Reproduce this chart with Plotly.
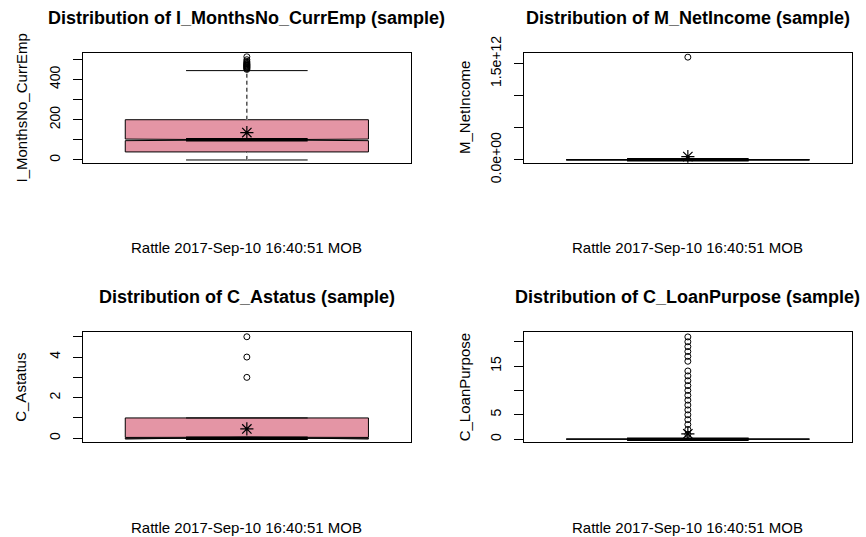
import plotly.graph_objects as go

# ---------------- data ----------------
variables = ["I_MonthsNo_CurrEmp", "M_NetIncome", "C_Astatus", "C_LoanPurpose"]
q1_vals = [40, 1500, 0, 0]
median_vals = [100, 3000, 0, 0]
q3_vals = [200, 6000, 1, 0]
lower_vals = [0, 0, 0, 0]
upper_vals = [444, 12000, 1, 0]
mean_vals = [136, 5.0e10, 0.46, 1.1]
notch_vals = [4, 300, 0.04, 0]
outliers = [
    [450, 454, 458, 461, 464, 467, 470, 473, 476, 480, 484, 490, 498, 513],
    [1.6e12],
    [3, 4, 5],
    [1, 2, 3, 4, 5, 6, 7, 8, 9, 10, 11, 12, 13, 14, 16, 17, 18, 19, 20, 21],
]
y_ranges = [[-13.5, 530], [-4.5e10, 1.66e12], [-0.2, 5.22], [-0.65, 21.95]]
tick_vals = [
    [0, 100, 200, 300, 400, 500],
    [0, 5e11, 1e12, 1.5e12],
    [0, 1, 2, 3, 4, 5],
    [0, 5, 10, 15, 20],
]
tick_text = [
    ["0", "", "200", "", "400", ""],
    ["0.0e+00", "", "", "1.5e+12"],
    ["0", "", "2", "", "4", ""],
    ["0", "5", "", "15", ""],
]
subtitle = "Rattle 2017-Sep-10 16:40:51 MOB"

# ---------------- style ----------------
W, H = 866, 537
FONT = "Liberation Sans, Arial, sans-serif"
FILL = "#E495A5"
BOX_W = 0.8
POS = 1

x_doms = [[82.7 / W, 411 / W], [523.7 / W, 852 / W]]
y_doms = [[(H - 162.7) / H, (H - 53.3) / H], [(H - 442.3) / H, (H - 332.3) / H]]

fig = go.Figure()
annotations = []

for i, var in enumerate(variables):
    col = i % 2
    row = i // 2
    xa = "x" if i == 0 else f"x{i+1}"
    ya = "y" if i == 0 else f"y{i+1}"

    fig.add_trace(go.Box(
        x=[POS], q1=[q1_vals[i]], median=[median_vals[i]], q3=[q3_vals[i]],
        lowerfence=[lower_vals[i]], upperfence=[upper_vals[i]],
        notched=notch_vals[i] > 0, notchspan=[notch_vals[i]] if notch_vals[i] > 0 else None,
        notchwidth=0.5, whiskerwidth=0.5, width=BOX_W,
        fillcolor=FILL, line=dict(color="black", width=1),
        boxpoints=False, hoverinfo="skip", showlegend=False,
        xaxis=xa, yaxis=ya,
    ))
    # dashed whiskers (R style): mask solid whisker, then dash
    for seg in ([q3_vals[i], upper_vals[i]], [lower_vals[i], q1_vals[i]]):
        if seg[1] != seg[0]:
            fig.add_trace(go.Scatter(x=[POS, POS], y=seg, mode="lines",
                                     line=dict(color="white", width=2),
                                     showlegend=False, hoverinfo="skip", xaxis=xa, yaxis=ya))
            fig.add_trace(go.Scatter(x=[POS, POS], y=seg, mode="lines",
                                     line=dict(color="black", width=1, dash="4px,3px"),
                                     showlegend=False, hoverinfo="skip", xaxis=xa, yaxis=ya))
    # thick median
    fig.add_trace(go.Scatter(x=[POS - BOX_W / 4, POS + BOX_W / 4],
                             y=[median_vals[i], median_vals[i]], mode="lines",
                             line=dict(color="black", width=3.5),
                             showlegend=False, hoverinfo="skip", xaxis=xa, yaxis=ya))
    # outliers
    fig.add_trace(go.Scatter(x=[POS] * len(outliers[i]), y=outliers[i], mode="markers",
                             marker=dict(symbol="circle-open", size=6, color="black",
                                         line=dict(width=1, color="black")),
                             showlegend=False, hoverinfo="skip", xaxis=xa, yaxis=ya))
    # mean
    fig.add_trace(go.Scatter(x=[POS], y=[mean_vals[i]], mode="markers",
                             marker=dict(symbol="asterisk-open", size=11, color="black",
                                         line=dict(width=1.2, color="black")),
                             showlegend=False, hoverinfo="skip", xaxis=xa, yaxis=ya))

    xkey = "xaxis" if i == 0 else f"xaxis{i+1}"
    ykey = "yaxis" if i == 0 else f"yaxis{i+1}"
    fig.update_layout(**{
        xkey: dict(domain=x_doms[col], anchor=ya, range=[0.46, 1.54], automargin=False,
                   showticklabels=False, ticks="", showgrid=False, zeroline=False,
                   showline=True, mirror=True, linecolor="black", linewidth=1),
        ykey: dict(domain=y_doms[row], anchor=xa, range=y_ranges[i], automargin=False,
                   tickvals=tick_vals[i], ticktext=tick_text[i], tickangle=-90,
                   ticks="outside", ticklen=9, tickcolor="black", tickwidth=1,
                   ticklabelstandoff=7,
                   tickfont=dict(family=FONT, size=14, color="black"),
                   showgrid=False, zeroline=False,
                   showline=True, mirror=True, linecolor="black", linewidth=1),
    })

    xc = sum(x_doms[col]) / 2
    yc = sum(y_doms[row]) / 2
    title_y = [(H - 18) / H, (H - 297) / H][row]
    sub_y = [(H - 247) / H, (H - 527) / H][row]
    lab_x = [20.5 / W, 464 / W][col]
    annotations.append(dict(text=f"<b>Distribution of {var} (sample)</b>", x=xc, y=title_y,
                            xref="paper", yref="paper", showarrow=False,
                            xanchor="center", yanchor="middle",
                            font=dict(family=FONT, size=18, color="black")))
    annotations.append(dict(text=subtitle, x=xc, y=sub_y, xref="paper", yref="paper",
                            showarrow=False, xanchor="center", yanchor="middle",
                            font=dict(family=FONT, size=15, color="black")))
    annotations.append(dict(text=var, x=lab_x, y=yc, xref="paper", yref="paper",
                            showarrow=False, textangle=-90, xanchor="center", yanchor="middle",
                            font=dict(family=FONT, size=15, color="black")))

fig.update_layout(width=W, height=H, margin=dict(l=0, r=0, t=0, b=0, autoexpand=False),
                  paper_bgcolor="white", plot_bgcolor="white",
                  annotations=annotations, showlegend=False)

fig.write_html("out.html")
